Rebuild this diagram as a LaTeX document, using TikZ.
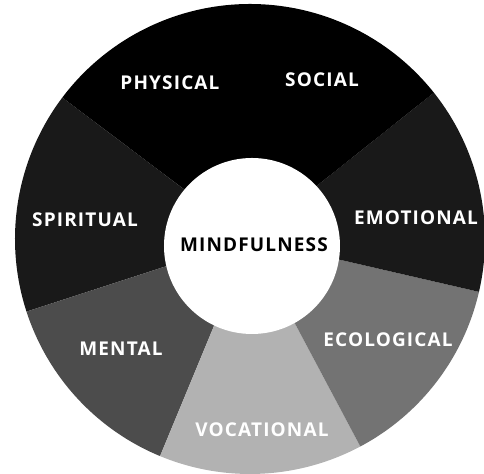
\documentclass[tikz,border=0pt]{standalone}
\usepackage{fontspec}
\setmainfont{Open Sans}[LetterSpace=6]
\usepackage{xcolor}
\usepackage{tikz}
\usetikzlibrary{calc}

\begin{document}
\begin{tikzpicture}[x=0.5pt,y=0.5pt,
  lbl/.style={text=white,font=\fontsize{9.5}{11}\selectfont\bfseries,inner sep=0pt},
  ctr/.style={text=black,font=\fontsize{9.5}{11}\selectfont\bfseries,inner sep=0pt}]
  \useasboundingbox (-250,-235) rectangle (234,239);
  \def\R{235}
  % sectors: start angle / end angle / grey
  \foreach \a/\b/\col in {90/143/black,143/198/black!90,198/247.5/black!70,
      247.5/298/black!30,298/347/black!55,347/398.5/black!90,38.5/90/black} {
    \fill[\col] (0,0) -- (\a:\R) arc[start angle=\a,end angle=\b,radius=\R] -- cycle;
  }
  \fill[white] (2,-7) circle[radius=88];
  \node[ctr] (mind) at (4,-6) {MINDFULNESS};
  \node[lbl] (phys) at (-80,156) {PHYSICAL};
  \node[lbl] (soc) at (72,159) {SOCIAL};
  \node[lbl] (emo) at (166,21) {EMOTIONAL};
  \node[lbl] (spir) at (-165,19) {SPIRITUAL};
  \node[lbl] (ment) at (-129,-110) {MENTAL};
  \node[lbl] (eco) at (138,-101) {ECOLOGICAL};
  \node[lbl] (voc) at (12,-191) {VOCATIONAL};
\end{tikzpicture}
\end{document}
